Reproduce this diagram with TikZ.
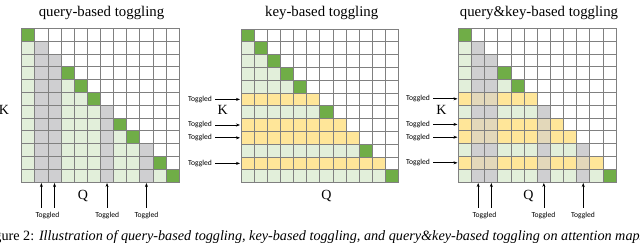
\documentclass[tikz,border=0pt]{standalone}
\usepackage{fontspec}
\setmainfont{Liberation Serif}
\newfontfamily\calfont{Carlito}
\usetikzlibrary{arrows.meta}
\definecolor{cgreen}{HTML}{70AD47}
\definecolor{clight}{HTML}{E2EFDA}
\definecolor{cgray}{HTML}{CFCFD1}
\definecolor{cyellow}{HTML}{FFE699}
\definecolor{ctan}{HTML}{E3D8BA}
\definecolor{cgrid}{HTML}{808080}
\tikzset{
  titletext/.style={font=\fontsize{14.8}{16}\selectfont, anchor=base, inner sep=0pt},
  axistext/.style={font=\fontsize{14}{16}\selectfont, inner sep=0pt},
  togtext/.style={font=\calfont\fontsize{7.6}{9}\selectfont, inner sep=0pt},
  togarrow/.style={line width=0.7pt, -{Stealth[length=4pt,width=3pt]}},
  captext/.style={font=\fontsize{14.2}{16}\selectfont, anchor=base west, inner sep=0pt}
}
\newcommand\mypanel[4]{%
  \foreach \i in {0,...,11}{
    \foreach \j in {0,...,11}{
      \pgfmathtruncatemacro\ct{#3*((\j==1)+(\j==2)+(\j==6)+(\j==9))}
      \pgfmathtruncatemacro\rt{#4*((\i==5)+(\i==7)+(\i==8)+(\i==10))}
      \ifnum\j>\i \def\cc{white}\else
        \ifnum\j=\i
          \ifnum\ct=1 \def\cc{cgray}\else\ifnum\rt=1 \def\cc{cyellow}\else\def\cc{cgreen}\fi\fi
        \else
          \ifnum\numexpr\ct*\rt\relax=1 \def\cc{ctan}\else
            \ifnum\ct=1 \def\cc{cgray}\else
              \ifnum\rt=1 \def\cc{cyellow}\else\def\cc{clight}\fi
            \fi
          \fi
        \fi
      \fi
      \filldraw[fill=\cc, draw=cgrid, line width=0.8pt] ({#1+\j*13.13},{#2+\i*12.8}) rectangle ++(13.13,12.8);
    }
  }
}
\begin{document}
\begin{tikzpicture}[x=1pt,y=-1pt]
\useasboundingbox (0,0) rectangle (640,242);
\clip (0,0) rectangle (640,242);

% titles
\node[titletext] (t1) at (101.5,16.5) {query-based toggling};
\node[titletext] (t2) at (321.7,16.5) {key-based toggling};
\node[titletext] (t3) at (539,16.5) {query\&key-based toggling};

% grids
\mypanel{21.7}{28.4}{1}{0}
\mypanel{241}{29}{0}{1}
\mypanel{458.5}{28.4}{1}{1}

% axis labels
\node[axistext] (k1) at (4,110) {K};
\node[axistext] (q1) at (83,196) {Q};
\node[axistext] (k2) at (222.7,110) {K};
\node[axistext] (q2) at (326.5,196) {Q};
\node[axistext] (k3) at (441.5,110) {K};
\node[axistext] (q3) at (528.3,196) {Q};

% panel 1: query toggles (columns)
\foreach \c/\n in {1/a,2/b,6/c,9/d}{
  \coordinate (p1\n s) at ({21.7+(\c+0.5)*13.13},207.5);
  \coordinate (p1\n e) at ({21.7+(\c+0.5)*13.13},183);
  \draw[togarrow] (p1\n s) -- (p1\n e);
}
\node[togtext] (g1a) at (47.6,215.5) {Toggled};
\node[togtext] (g1b) at (107.2,215.5) {Toggled};
\node[togtext] (g1c) at (146.6,215.5) {Toggled};

% panel 2: key toggles (rows)
\foreach \r/\n in {5/a,7/b,8/c,10/d}{
  \node[togtext] (g2\n) at (200,{29+(\r+0.5)*12.8}) {Toggled};
  \coordinate (p2\n e) at (240,{29+(\r+0.5)*12.8});
  \draw[togarrow] (g2\n.east) ++(3,0) coordinate (p2\n s) -- (p2\n e);
}

% panel 3: both
\foreach \r/\n in {5/a,7/b,8/c,10/d}{
  \node[togtext] (g3\n) at (418,{28.4+(\r+0.5)*12.8}) {Toggled};
  \coordinate (p3\n e) at (457.5,{28.4+(\r+0.5)*12.8});
  \draw[togarrow] (g3\n.east) ++(3,0) coordinate (p3\n s) -- (p3\n e);
}
\foreach \c/\n in {1/a,2/b,6/c,9/d}{
  \coordinate (p3\n v) at ({458.5+(\c+0.5)*13.13},207.5);
  \coordinate (p3\n w) at ({458.5+(\c+0.5)*13.13},183);
  \draw[togarrow] (p3\n v) -- (p3\n w);
}
\node[togtext] (h3a) at (484.5,216) {Toggled};
\node[togtext] (h3b) at (543.5,216) {Toggled};
\node[togtext] (h3c) at (583,216) {Toggled};

% caption (cropped, as in the reference)
\node[captext] (cap) at (-17.6,240.5) {Figure 2: \textit{Illustration of query-based toggling, key-based toggling, and query\&key-based toggling on attention maps.}};
\end{tikzpicture}
\end{document}
